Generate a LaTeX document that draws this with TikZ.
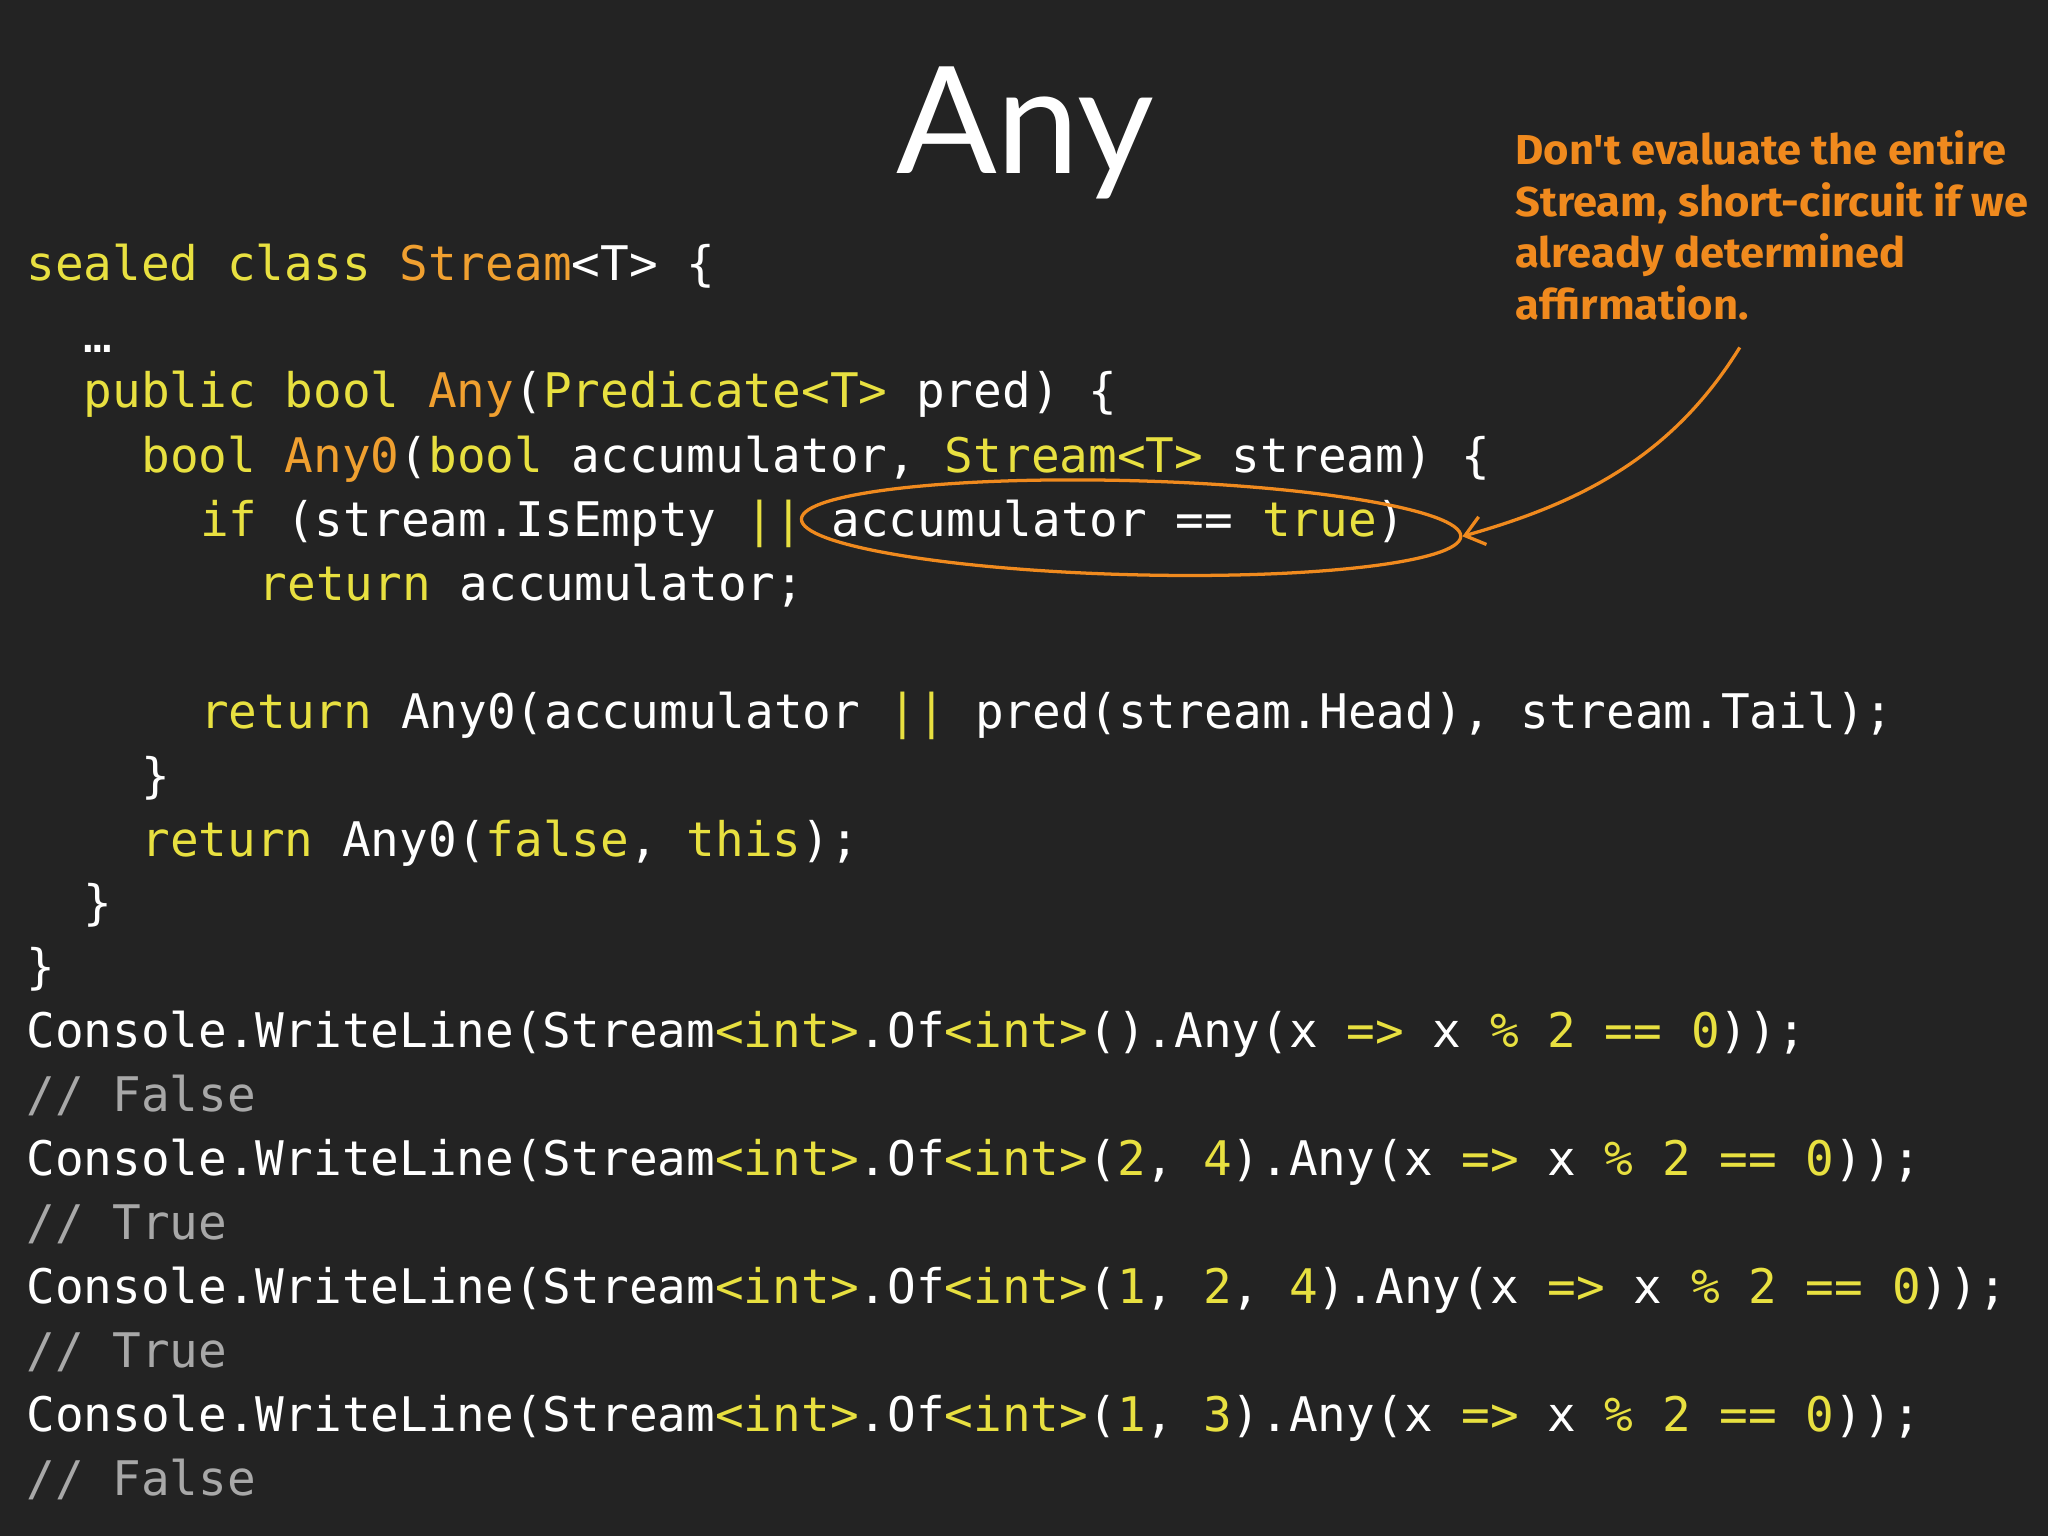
\documentclass[tikz,border=0pt]{standalone}
\usepackage{fontspec}
\setmonofont{DejaVu Sans Mono}
\newfontfamily\titlefont{Lato}
\newfontfamily\notefont{Fira Sans}
\usetikzlibrary{arrows.meta,shapes.geometric}
\definecolor{bg}{HTML}{232323}
\definecolor{kw}{HTML}{E8E040}
\definecolor{ty}{HTML}{F0A030}
\definecolor{cm}{HTML}{A8A8A8}
\definecolor{ann}{HTML}{F08A1E}
\newcommand\KW[1]{\textcolor{kw}{#1}}
\newcommand\TY[1]{\textcolor{ty}{#1}}
\newcommand\CM[1]{\textcolor{cm}{#1}}
\tikzset{code/.style={anchor=base west,inner sep=0pt,text=white,font=\ttfamily\fontsize{36.5}{40}\selectfont}}
\begin{document}
\begin{tikzpicture}[x=1pt,y=-1pt]
\fill[bg] (0,0) rectangle (1568,1176);
\useasboundingbox (0,0) rectangle (1568,1176);
\node[text=white,font=\titlefont\fontsize{114}{120}\selectfont,anchor=base] (title) at (785,133) {Any};
\def\dy{12}
\node[code] (l1) at (20,203+\dy) {\KW{sealed class} \TY{Stream}<T> \{};
\node[code] (l2) at (64,258+\dy) {…};
\node[code] (l3) at (64,300+\dy) {\KW{public bool} \TY{Any}(\KW{Predicate<T>} pred) \{};
\node[code] (l4) at (108,350+\dy) {\KW{bool} \TY{Any0}(\KW{bool} accumulator, \KW{Stream<T>} stream) \{};
\node[code] (l5) at (153,399+\dy) {\KW{if} (stream.IsEmpty \KW{||} accumulator == \KW{true})};
\node[code] (l6) at (198,448+\dy) {\KW{return} accumulator;};
\node[code] (l7) at (153,546+\dy) {\KW{return} Any0(accumulator \KW{||} pred(stream.Head), stream.Tail);};
\node[code] (l8) at (108,595+\dy) {\}};
\node[code] (l9) at (108,644+\dy) {\KW{return} Any0(\KW{false}, \KW{this});};
\node[code] (l10) at (64,692+\dy) {\}};
\node[code] (l11) at (20,741+\dy) {\}};
\node[code] (c1) at (20,790+\dy) {Console.WriteLine(Stream\KW{<int>}.Of\KW{<int>}().Any(x \KW{=>} x \KW{\% 2 ==} \KW{0}));};
\node[code] (r1) at (20,839+\dy) {\CM{// False}};
\node[code] (c2) at (20,888+\dy) {Console.WriteLine(Stream\KW{<int>}.Of\KW{<int>}(\KW{2}, \KW{4}).Any(x \KW{=>} x \KW{\% 2 ==} \KW{0}));};
\node[code] (r2) at (20,937+\dy) {\CM{// True}};
\node[code] (c3) at (20,986+\dy) {Console.WriteLine(Stream\KW{<int>}.Of\KW{<int>}(\KW{1}, \KW{2}, \KW{4}).Any(x \KW{=>} x \KW{\% 2 ==} \KW{0}));};
\node[code] (r3) at (20,1035+\dy) {\CM{// True}};
\node[code] (c4) at (20,1084+\dy) {Console.WriteLine(Stream\KW{<int>}.Of\KW{<int>}(\KW{1}, \KW{3}).Any(x \KW{=>} x \KW{\% 2 ==} \KW{0}));};
\node[code] (r4) at (20,1133+\dy) {\CM{// False}};
% annotation
\node[anchor=north west,inner sep=0pt,text=ann,align=left,xscale=1.04,
  font=\notefont\bfseries\fontsize{32}{39.5}\selectfont] (note) at (1160,100)
  {Don't evaluate the entire\\Stream, short-circuit if we\\already determined\\affirmation.};
\node[draw=ann,line width=2.5pt,ellipse,minimum width=505pt,minimum height=72pt,rotate=-1.5] (circ) at (866,404) {};
\coordinate (from) at (1332,266);
\draw[ann,line width=2.5pt,-{Straight Barb[length=14pt,width=22pt]}] (from) .. controls (1280,350) and (1210,385) .. (circ.east);
\end{tikzpicture}
\end{document}
